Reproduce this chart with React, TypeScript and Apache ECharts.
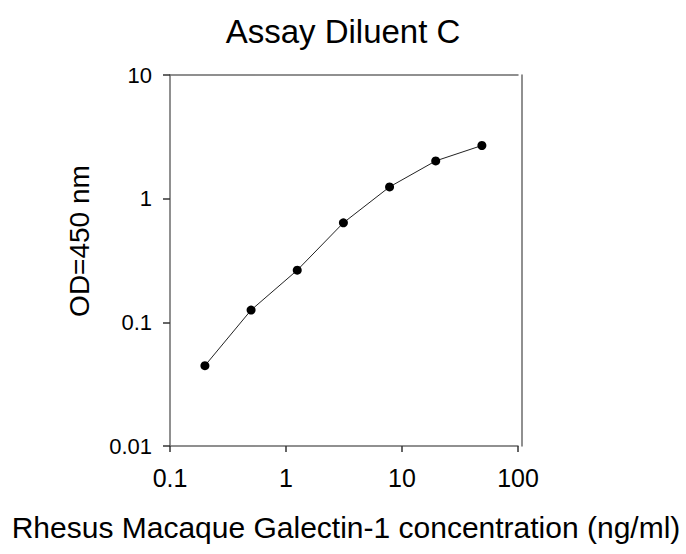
import React, { useEffect, useRef } from "react";
import * as echarts from "echarts";

const concentrations = [0.2, 0.5, 1.25, 3.125, 7.8125, 19.53, 48.83];
const odValues = [0.0446, 0.1256, 0.264, 0.638, 1.245, 2.02, 2.69];
const titleText = "Assay Diluent C";
const xName = "Rhesus Macaque Galectin-1 concentration (ng/ml)";
const yName = "OD=450 nm";

const FONT = "'Liberation Sans', Arial, sans-serif";

export default function App() {
  const ref = useRef<HTMLDivElement>(null);
  useEffect(() => {
    if (!ref.current) return;
    const chart = echarts.init(ref.current, undefined, { renderer: "svg" });
    const axisLine = { show: true, lineStyle: { color: "#6b6b6b", width: 1.5 } };
    const fmt = (v: number) => String(Number(v.toPrecision(3)));
    chart.setOption({
      animation: false,
      backgroundColor: "#ffffff",
      title: {
        text: titleText,
        left: "center",
        top: 10,
        textStyle: { fontFamily: FONT, fontSize: 33, fontWeight: "normal", color: "#000" },
      },
      grid: { left: 170, right: 168, top: 75, bottom: 108, containLabel: false },
      xAxis: [
        {
          type: "log",
          logBase: 10,
          min: 0.1,
          max: 100,
          position: "bottom",
          axisLine,
          axisTick: { show: true, length: 6, lineStyle: { color: "#333", width: 1.5 } },
          minorTick: { show: false },
          splitLine: { show: false },
          axisLabel: { fontFamily: FONT, fontSize: 25, color: "#000", margin: 19, formatter: fmt },
        },
        {
          type: "log",
          logBase: 10,
          min: 0.1,
          max: 100,
          position: "top",
          axisLine,
          axisTick: { show: false },
          splitLine: { show: false },
          axisLabel: { show: false },
        },
      ],
      yAxis: [
        {
          type: "log",
          logBase: 10,
          min: 0.01,
          max: 10,
          position: "left",
          axisLine,
          axisTick: { show: true, length: 7, lineStyle: { color: "#333", width: 1.5 } },
          splitLine: { show: false },
          axisLabel: { fontFamily: FONT, fontSize: 22, color: "#000", margin: 18, formatter: fmt },
        },
        {
          type: "log",
          logBase: 10,
          min: 0.01,
          max: 10,
          position: "right",
          offset: 4,
          axisLine,
          axisTick: { show: false },
          splitLine: { show: false },
          axisLabel: { show: false },
        },
      ],
      graphic: [
        {
          type: "text",
          x: 346,
          y: 527,
          style: {
            text: xName,
            fontFamily: FONT,
            fontSize: 30,
            fill: "#000",
            textAlign: "center",
            textVerticalAlign: "middle",
          },
        },
        {
          type: "text",
          x: 79,
          y: 241,
          rotation: Math.PI / 2,
          style: {
            text: yName,
            fontFamily: FONT,
            fontSize: 28,
            fill: "#000",
            textAlign: "center",
            textVerticalAlign: "middle",
          },
        },
      ],
      series: [
        {
          type: "line",
          xAxisIndex: 0,
          yAxisIndex: 0,
          data: concentrations.map((c, i) => [c, odValues[i]]),
          symbol: "circle",
          symbolSize: 9,
          itemStyle: { color: "#000" },
          lineStyle: { color: "#222", width: 1 },
        },
      ],
    });
    return () => chart.dispose();
  }, []);
  return (
    <div
      ref={ref}
      style={{ position: "fixed", left: 0, top: 0, width: 686, height: 554 }}
    />
  );
}
